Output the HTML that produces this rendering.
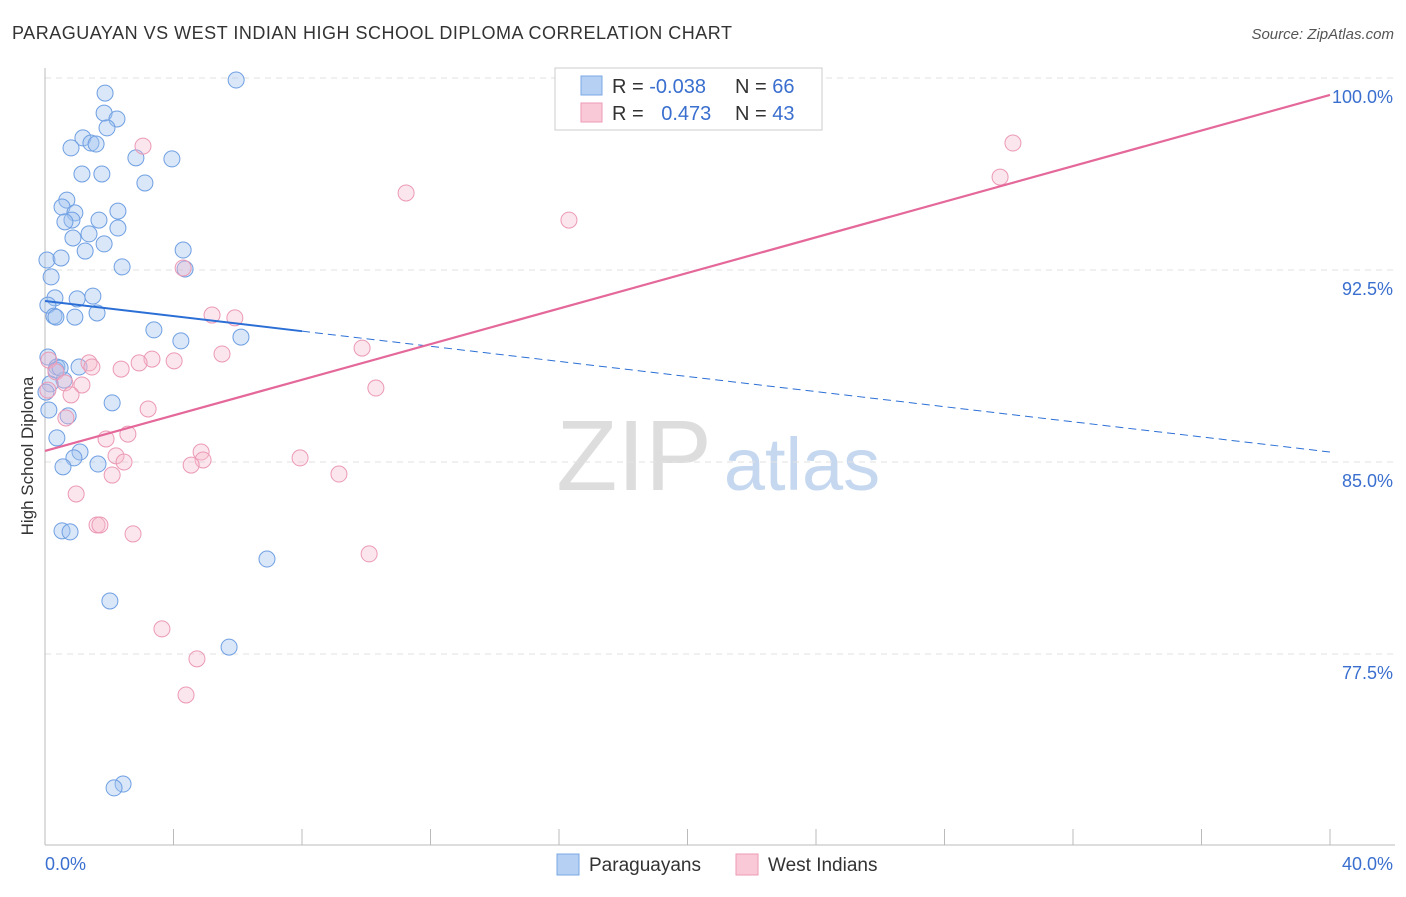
<!DOCTYPE html>
<html><head><meta charset="utf-8"><style>
body{margin:0;background:#fff;font-family:"Liberation Sans",sans-serif}
svg text{font-family:"Liberation Sans",sans-serif}
</style></head><body>
<svg id="chart" width="1406" height="892" xmlns="http://www.w3.org/2000/svg">
<text x="12" y="39" font-size="18" fill="#333" textLength="720">PARAGUAYAN VS WEST INDIAN HIGH SCHOOL DIPLOMA CORRELATION CHART</text>
<text x="1394" y="39" font-size="15" fill="#555" text-anchor="end" font-style="italic">Source: ZipAtlas.com</text>
<text transform="translate(33,456) rotate(-90)" font-size="17" fill="#333" text-anchor="middle">High School Diploma</text>
<g>
<text x="634" y="490" font-size="100" fill="#ddd" text-anchor="middle" font-family="Liberation Serif, serif">ZIP</text>
<text x="802" y="490" font-size="74" fill="#c5d8ef" text-anchor="middle">atlas</text>
</g>
<g id="grid"></g><g id="axes"></g><g id="pts"></g><g id="lines"></g>
<g>
<rect x="555" y="68" width="267" height="62" fill="#fff" stroke="#ccc"/>
<rect x="581" y="76" width="21" height="19" fill="#b5d0f3" stroke="#7aa7e5"/>
<rect x="581" y="103" width="21" height="19" fill="#f9c9d7" stroke="#ee9ab5"/>
<text x="612" y="93" font-size="20" fill="#333">R = <tspan fill="#3a6fcf">-0.038</tspan></text>
<text x="735" y="93" font-size="20" fill="#333">N = <tspan fill="#3a6fcf">66</tspan></text>
<text x="612" y="120" font-size="20" fill="#333">R = <tspan fill="#3a6fcf" dx="12">0.473</tspan></text>
<text x="735" y="120" font-size="20" fill="#333">N = <tspan fill="#3a6fcf">43</tspan></text>
</g>
<g>
<rect x="557" y="854" width="22" height="21" fill="#b5d0f3" stroke="#7aa7e5"/>
<text x="589" y="871" font-size="19" fill="#333">Paraguayans</text>
<rect x="736" y="854" width="22" height="21" fill="#f9c9d7" stroke="#ee9ab5"/>
<text x="768" y="871" font-size="19" fill="#333">West Indians</text>
</g>
</svg>
<script>
const blueX=[5.95,1.87,1.84,2.24,1.93,1.18,1.43,1.59,0.81,2.83,3.95,1.15,1.77,3.11,0.68,0.53,0.93,2.27,1.68,0.84,0.62,2.27,1.37,0.87,1.84,4.30,1.25,0.06,0.50,2.40,4.36,0.19,1.49,0.31,1.00,0.09,1.62,0.28,0.34,0.93,3.39,4.23,6.10,0.09,0.37,1.06,0.59,0.16,2.09,0.12,0.72,0.37,1.09,0.90,1.65,0.56,0.53,0.78,6.91,2.02,5.73,2.43,2.15,0.34,0.47,0.03];
const blueY=[99.92,99.41,98.63,98.40,98.05,97.66,97.46,97.42,97.27,96.88,96.84,96.25,96.25,95.90,95.23,94.96,94.73,94.80,94.45,94.45,94.38,94.14,93.91,93.75,93.52,93.28,93.24,92.89,92.97,92.62,92.54,92.23,91.48,91.41,91.37,91.13,90.82,90.70,90.66,90.66,90.16,89.73,89.88,89.10,88.71,88.71,88.20,88.05,87.31,87.03,86.80,85.94,85.39,85.16,84.92,84.81,82.31,82.27,81.21,79.57,77.77,72.42,72.27,88.59,88.67,87.73];
const pinkX=[30.13,29.73,3.05,11.24,16.31,4.30,5.20,5.91,9.87,5.51,3.33,4.02,2.93,1.37,2.37,1.46,0.12,0.34,10.30,1.15,0.62,0.81,3.21,0.65,2.58,1.90,2.21,4.86,4.92,4.55,2.46,7.94,2.09,9.15,0.97,1.62,1.71,2.74,10.09,3.64,4.73,4.39,0.09];
const pinkY=[97.46,96.13,97.34,95.51,94.45,92.58,90.74,90.63,89.45,89.22,89.02,88.95,88.87,88.87,88.63,88.71,88.98,88.52,87.89,88.01,88.09,87.62,87.07,86.72,86.09,85.90,85.24,85.39,85.08,84.88,85.00,85.16,84.49,84.53,83.75,82.54,82.54,82.19,81.41,78.48,77.31,75.90,87.81];
const yTicks=[100,92.5,85,77.5];
const yTickLabels=["100.0%","92.5%","85.0%","77.5%"];
const xTickLabels=["0.0%","40.0%"];
const blueTrend=[91.29,85.39];
const pinkTrend=[85.43,99.34];
const blueSolidEnd=8;
const NS="http://www.w3.org/2000/svg";
const X=v=>45+v/40*1285, Y=v=>78+(100-v)/7.5*192;
function mk(p,t,a){const e=document.createElementNS(NS,t);for(const k in a)e.setAttribute(k,a[k]);document.getElementById(p).appendChild(e);return e;}
yTicks.forEach((t,i)=>{
 const g=mk('grid','line',{x1:45,x2:1395,y1:Y(t),y2:Y(t),stroke:'#e2e2e2','stroke-dasharray':'6 5'});
 
 
 const tx=mk('grid','text',{x:1393,y:Y(t)+25,'font-size':18,fill:'#3a6fcf','text-anchor':'end'});
 tx.textContent=yTickLabels[i];
 
 
});
const ax=mk('axes','line',{x1:45,x2:1395,y1:845,y2:845,stroke:'#bbb'});


const ay=mk('axes','line',{x1:45,x2:45,y1:68,y2:845,stroke:'#bbb'});


for(let i=0;i<=10;i++){
 const t=mk('axes','line',{x1:X(i*4),x2:X(i*4),y1:829,y2:845,stroke:'#bbb'});
 
 
}
const l0=mk('axes','text',{x:45,y:870,'font-size':18,fill:'#3a6fcf'});l0.textContent=xTickLabels[0];


const l1=mk('axes','text',{x:1393,y:870,'font-size':18,fill:'#3a6fcf','text-anchor':'end'});l1.textContent=xTickLabels[1];


blueX.forEach((v,i)=>{
 const c=mk('pts','circle',{cx:X(v),cy:Y(blueY[i]),r:8,fill:'rgba(160,195,240,0.4)',stroke:'#6f9fe2','stroke-width':1});
 
 
});
pinkX.forEach((v,i)=>{
 const c=mk('pts','circle',{cx:X(v),cy:Y(pinkY[i]),r:8,fill:'rgba(246,184,204,0.35)',stroke:'#eb99b5','stroke-width':1});
 
 
});
const by=x=>blueTrend[0]+(blueTrend[1]-blueTrend[0])*x/40;
const b1=mk('lines','line',{x1:X(0),y1:Y(by(0)),x2:X(blueSolidEnd),y2:Y(by(blueSolidEnd)),stroke:'#2b6fd6','stroke-width':2});


const b2=mk('lines','line',{x1:X(blueSolidEnd),y1:Y(by(blueSolidEnd)),x2:X(40),y2:Y(by(40)),stroke:'#2b6fd6','stroke-width':1,'stroke-dasharray':'8 5'});


const p=mk('lines','line',{x1:X(0),y1:Y(pinkTrend[0]),x2:X(40),y2:Y(pinkTrend[1]),stroke:'#e4689a','stroke-width':2.2});


</script>
</body></html>
